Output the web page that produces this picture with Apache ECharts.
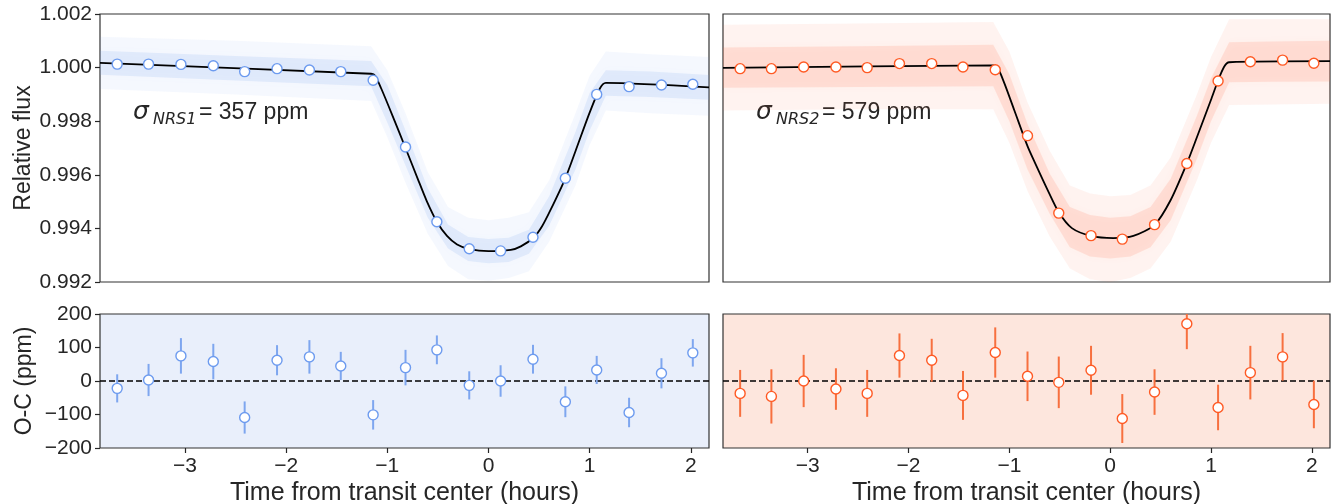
<!DOCTYPE html>
<html>
<head>
<meta charset="utf-8">
<script src="https://cdn.jsdelivr.net/npm/echarts@6/dist/echarts.min.js"></script>
<style>
  html, body { margin: 0; padding: 0; background: #ffffff; }
  #chart { width: 1342px; height: 504px; }
</style>
</head>
<body>
<div id="chart"></div>
<script>
// Bin centres (hours from mid-transit), shared by both detectors
const binTimes = [-3.67, -3.36, -3.04, -2.72, -2.41, -2.09, -1.77, -1.46, -1.14,
                  -0.82, -0.51, -0.19, 0.12, 0.44, 0.76, 1.07, 1.39, 1.71, 2.02];

// Binned relative flux
const nrs1BinFlux = [1.00013, 1.00013, 1.00012, 1.00007, 0.99985, 0.99996, 0.99991, 0.99985, 0.99953,
                     0.99704, 0.99425, 0.99324, 0.99316, 0.99367, 0.99587, 0.99900, 0.99929, 0.99935, 0.99938];
const nrs2BinFlux = [0.99996, 0.99996, 1.00002, 1.00002, 1.00000, 1.00015, 1.00015, 1.00002, 0.99992,
                     0.99746, 0.99457, 0.99373, 0.99360, 0.99414, 0.99642, 0.99950, 1.00022, 1.00028, 1.00016];

// Binned residuals and their uncertainties (ppm)
const nrs1Resid    = [-22, 3, 75, 58, -109, 62, 72, 45, -101, 40, 93, -13, 0, 65, -62, 33, -94, 23, 84];
const nrs1ResidErr = [42, 48, 53, 53, 48, 45, 50, 42, 44, 53, 43, 42, 47, 43, 46, 42, 44, 45, 41];
const nrs2Resid    = [-37, -46, 0, -24, -37, 76, 62, -43, 85, 14, -4, 32, -112, -33, 171, -79, 25, 72, -70];
const nrs2ResidErr = [70, 81, 78, 62, 70, 66, 64, 73, 75, 74, 77, 73, 73, 68, 76, 68, 80, 71, 71];

// Best-fit transit models
const nrs1ModelTime = [-3.84, -1.16, -1.12, -1.06, -0.95, -0.82, -0.70, -0.61, -0.51, -0.41, -0.31, -0.19,
                       0.00, 0.22, 0.32, 0.45, 0.53, 0.61, 0.76, 0.86, 1.00, 1.10, 1.16, 2.18];
const nrs1ModelFlux = [1.00018, 0.99977, 0.99970, 0.99922, 0.99822, 0.99700, 0.99586, 0.99502, 0.99425, 0.99372, 0.99340, 0.99323,
                       0.99315, 0.99320, 0.99333, 0.99367, 0.99408, 0.99466, 0.99587, 0.99688, 0.99832, 0.99921, 0.99943, 0.99926];
const nrs2ModelTime = [-3.84, -1.16, -1.12, -1.05, -0.95, -0.82, -0.74, -0.62, -0.51, -0.38, -0.19,
                       0.03, 0.23, 0.44, 0.60, 0.76, 0.86, 1.00, 1.07, 1.13, 1.18, 2.18];
const nrs2ModelFlux = [0.99999, 1.00008, 1.00003, 0.99942, 0.99840, 0.99707, 0.99640, 0.99543, 0.99460, 0.99401, 0.99372,
                       0.99364, 0.99372, 0.99413, 0.99506, 0.99642, 0.99740, 0.99880, 0.99952, 1.00003, 1.00020, 1.00024];

// Spread of the unbinned integrations (dense core and faint wings)
const nrs1CloudTime = [-3.84, -2.5, -1.16, -1.0, -0.82, -0.6, -0.4, -0.2, 0.0, 0.2, 0.4, 0.6, 0.86, 1.0, 1.16, 1.6, 2.18];
const nrs1CoreHi = [1.00063, 1.00043, 1.00025, 0.99935, 0.99765, 0.99550, 0.99415, 0.99368, 0.99360, 0.99365, 0.99395, 0.99520, 0.99760, 0.99905, 0.99990, 0.99985, 0.99972];
const nrs1CoreLo = [0.99973, 0.99952, 0.99930, 0.99795, 0.99635, 0.99440, 0.99325, 0.99278, 0.99270, 0.99275, 0.99305, 0.99410, 0.99620, 0.99765, 0.99895, 0.99890, 0.99880];
const nrs1WingHi = [1.00115, 1.00100, 1.00080, 0.99990, 0.99830, 0.99610, 0.99480, 0.99440, 0.99430, 0.99440, 0.99460, 0.99580, 0.99830, 0.99970, 1.00060, 1.00050, 1.00040];
const nrs1WingLo = [0.99920, 0.99900, 0.99875, 0.99740, 0.99570, 0.99380, 0.99260, 0.99210, 0.99205, 0.99215, 0.99240, 0.99350, 0.99560, 0.99710, 0.99840, 0.99830, 0.99820];

const nrs2CloudTime = [-3.84, -2.5, -1.16, -1.0, -0.82, -0.6, -0.4, -0.2, 0.0, 0.2, 0.4, 0.6, 0.86, 1.0, 1.18, 1.6, 2.18];
const nrs2CoreHi = [1.00075, 1.00080, 1.00085, 0.99975, 0.99790, 0.99605, 0.99480, 0.99450, 0.99440, 0.99445, 0.99480, 0.99585, 0.99820, 0.99960, 1.00095, 1.00097, 1.00100];
const nrs2CoreLo = [0.99925, 0.99928, 0.99930, 0.99800, 0.99620, 0.99455, 0.99330, 0.99295, 0.99288, 0.99295, 0.99330, 0.99430, 0.99660, 0.99800, 0.99945, 0.99947, 0.99948];
const nrs2WingHi = [1.00160, 1.00165, 1.00170, 1.00060, 0.99870, 0.99690, 0.99560, 0.99530, 0.99520, 0.99525, 0.99560, 0.99665, 0.99900, 1.00040, 1.00180, 1.00180, 1.00180];
const nrs2WingLo = [0.99840, 0.99845, 0.99845, 0.99720, 0.99540, 0.99370, 0.99250, 0.99210, 0.99200, 0.99215, 0.99250, 0.99350, 0.99580, 0.99720, 0.99860, 0.99862, 0.99865];

// Tick values and annotation text
const timeTicks = [-3, -2, -1, 0, 1, 2];
const scatterLabels = [
  { det: 'NRS1', value: '357' },
  { det: 'NRS2', value: '579' }
];

const T_MIN = -3.84, T_MAX = 2.18;
const FONT = '"Liberation Sans", Arial, sans-serif';
const INK = '#262626';
const BLUE = '#6d9bef', BLUE_BAR = '#7ea6ef';
const ORANGE = '#ff5a24', ORANGE_BAR = '#f7703f';

const minus = v => String(v).replace('-', '\u2212');
const zip = (a, b) => a.map((v, i) => [v, b[i]]);

function cloudSeries(idx, times, lo, hi, color, blur) {
  return {
    type: 'custom', xAxisIndex: idx, yAxisIndex: idx, z: 1, silent: true, clip: true,
    data: times.map((t, i) => [t, lo[i], hi[i]]),
    encode: { x: 0, y: [1, 2] },
    renderItem: function (params, api) {
      if (params.dataIndex !== 0) return null;
      const pts = [];
      for (let i = 0; i < times.length; i++) pts.push(api.coord([times[i], hi[i]]));
      for (let i = times.length - 1; i >= 0; i--) pts.push(api.coord([times[i], lo[i]]));
      return {
        type: 'polygon', shape: { points: pts },
        style: { fill: color, shadowBlur: blur, shadowColor: color }
      };
    }
  };
}

function errorBarSeries(idx, vals, errs, color) {
  return {
    type: 'custom', xAxisIndex: idx, yAxisIndex: idx, z: 3, silent: true,
    data: binTimes.map((t, i) => [t, vals[i], errs[i]]),
    encode: { x: 0, y: 1 },
    renderItem: function (params, api) {
      const t = api.value(0), v = api.value(1), e = api.value(2);
      const hi = api.coord([t, v + e]);
      const lo = api.coord([t, v - e]);
      const cs = params.coordSys;
      return {
        type: 'line',
        shape: { x1: hi[0], y1: Math.max(hi[1], cs.y), x2: lo[0], y2: Math.min(lo[1], cs.y + cs.height) },
        style: { stroke: color, lineWidth: 2 }
      };
    }
  };
}

function binSeries(idx, ys, color) {
  return {
    type: 'scatter', xAxisIndex: idx, yAxisIndex: idx, z: 5, silent: true,
    symbol: 'circle', symbolSize: 10,
    itemStyle: { color: '#ffffff', borderColor: color, borderWidth: 1.4, opacity: 1 },
    data: zip(binTimes, ys)
  };
}

function modelSeries(idx, ts, fs) {
  return {
    type: 'line', xAxisIndex: idx, yAxisIndex: idx, z: 4, silent: true,
    showSymbol: false, smooth: 0.25,
    lineStyle: { color: '#000000', width: 1.8 },
    data: zip(ts, fs)
  };
}

function zeroLine(idx) {
  return {
    type: 'line', xAxisIndex: idx, yAxisIndex: idx, z: 2, silent: true, showSymbol: false,
    lineStyle: { color: '#000000', width: 1.6, type: [6, 3] },
    data: [[T_MIN, 0], [T_MAX, 0]]
  };
}

const gridBase = { show: true, borderColor: '#333333', borderWidth: 1.2, outerBoundsMode: 'none', containLabel: false };
const grids = [
  Object.assign({}, gridBase, { left: 100, top: 14, width: 609, height: 268 }),
  Object.assign({}, gridBase, { left: 723, top: 14, width: 607, height: 268 }),
  Object.assign({}, gridBase, { left: 100, top: 314, width: 609, height: 134, backgroundColor: '#e9effb' }),
  Object.assign({}, gridBase, { left: 723, top: 314, width: 607, height: 134, backgroundColor: '#fde6dd' })
];

const xAxes = [0, 1, 2, 3].map(i => ({
  type: 'value', gridIndex: i, min: T_MIN, max: T_MAX, position: 'bottom',
  splitLine: { show: false },
  axisLine: { show: false, onZero: false },
  axisTick: { show: i >= 2, length: 5, lineStyle: { color: INK, width: 1.2 }, customValues: timeTicks },
  axisLabel: { show: i >= 2, customValues: timeTicks, margin: 8, fontSize: 21, fontFamily: FONT, color: INK, formatter: minus },
  name: i >= 2 ? 'Time from transit center (hours)' : '',
  nameLocation: 'middle', nameGap: 33,
  nameTextStyle: { fontSize: 25, fontFamily: FONT, color: INK }
}));

const yAxes = [0, 1, 2, 3].map(i => {
  const top = i < 2;
  const labelled = (i === 0 || i === 2);
  return {
    type: 'value', gridIndex: i, position: 'left',
    min: top ? 0.992 : -200, max: top ? 1.002 : 200, interval: top ? 0.002 : 100,
    splitLine: { show: false },
    axisLine: { show: false, onZero: false },
    axisTick: { show: labelled, length: 5, lineStyle: { color: INK, width: 1.2 } },
    axisLabel: {
      show: labelled, margin: 8, fontSize: 21, fontFamily: FONT, color: INK,
      formatter: top ? (v => v.toFixed(3)) : minus
    },
    name: i === 0 ? 'Relative flux' : (i === 2 ? 'O-C (ppm)' : ''),
    nameLocation: 'middle', nameGap: 64, nameRotate: 90,
    nameTextStyle: { fontSize: 23, fontFamily: FONT, color: INK }
  };
});

function sigmaLabel(left, item) {
  return {
    type: 'group', left: left, top: 100, silent: true,
    children: [
      { type: 'text', x: 0, y: 14, style: { text: '\u03c3', font: 'italic 25px "DejaVu Sans"', fill: INK, verticalAlign: 'middle' } },
      { type: 'text', x: 20, y: 21, style: { text: item.det, font: 'italic 16px "DejaVu Sans"', fill: INK, verticalAlign: 'middle' } },
      { type: 'text', x: 66, y: 14, style: { text: '= ' + item.value + ' ppm', font: '23px ' + FONT, fill: INK, verticalAlign: 'middle' } }
    ]
  };
}

const chart = echarts.init(document.getElementById('chart'), null, { renderer: 'canvas' });
chart.setOption({
  animation: false,
  backgroundColor: '#ffffff',
  grid: grids,
  xAxis: xAxes,
  yAxis: yAxes,
  graphic: [sigmaLabel(133, scatterLabels[0]), sigmaLabel(756, scatterLabels[1])],
  series: [
    cloudSeries(0, nrs1CloudTime, nrs1WingLo, nrs1WingHi, 'rgba(120,160,235,0.07)', 14),
    cloudSeries(0, nrs1CloudTime, nrs1CoreLo, nrs1CoreHi, 'rgba(120,160,235,0.15)', 10),
    modelSeries(0, nrs1ModelTime, nrs1ModelFlux),
    binSeries(0, nrs1BinFlux, BLUE),

    cloudSeries(1, nrs2CloudTime, nrs2WingLo, nrs2WingHi, 'rgba(255,120,80,0.08)', 14),
    cloudSeries(1, nrs2CloudTime, nrs2CoreLo, nrs2CoreHi, 'rgba(255,120,80,0.16)', 10),
    modelSeries(1, nrs2ModelTime, nrs2ModelFlux),
    binSeries(1, nrs2BinFlux, ORANGE),

    zeroLine(2),
    errorBarSeries(2, nrs1Resid, nrs1ResidErr, BLUE_BAR),
    binSeries(2, nrs1Resid, BLUE),

    zeroLine(3),
    errorBarSeries(3, nrs2Resid, nrs2ResidErr, ORANGE_BAR),
    binSeries(3, nrs2Resid, ORANGE)
  ]
});
</script>
</body>
</html>
